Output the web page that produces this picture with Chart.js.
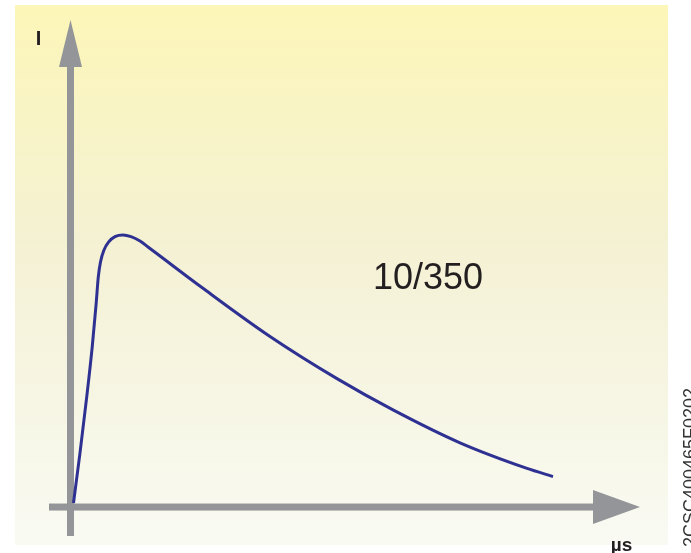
<!DOCTYPE html>
<html lang="en">
<head>
    <meta charset="UTF-8">
    <title>10/350 impulse</title>
    <style>
        body {
            margin: 0;
            padding: 0;
            background-color: #ffffff;
            font-family: 'Liberation Sans', Arial, sans-serif;
        }
        .container {
            position: relative;
            width: 691px;
            height: 553px;
            overflow: hidden;
        }
        .container canvas {
            position: absolute;
            left: 0;
            top: 0;
        }
        .label {
            position: absolute;
            line-height: 1;
            white-space: nowrap;
            color: #231f20;
        }
        #yName { left: 35.7px; top: 28.4px; font-size: 20px; font-weight: bold; }
        #xName { left: 610.7px; top: 535px; font-size: 19px; font-weight: bold; }
        #waveName { left: 373px; top: 258.5px; font-size: 36px; }
        #code {
            left: 680.7px; top: 547px; font-size: 18px; color: #333;
            transform-origin: 0 0; transform: rotate(-90deg);
        }
    </style>
</head>
<body>

    <div class="container">
        <canvas id="myChart"></canvas>
        <div class="label" id="yName">I</div>
        <div class="label" id="xName">µs</div>
        <div class="label" id="waveName">10/350</div>
        <div class="label" id="code">2CSC400465F0202</div>
    </div>

    <script src="https://cdn.jsdelivr.net/npm/chart.js"></script>
    <script>
        // time (arbitrary µs units) and current (% of peak)
        const timeUs = [0.6, 1.9, 3.24, 4.34, 5.14, 5.56, 6.0, 6.7, 7.6, 8.9, 10.5, 12.1, 13.9, 15.5, 17.24,
                        26.5, 39.9, 53.3, 64.5, 77.9, 91.3, 96.5];
        const current = [1.5, 19.9, 40.4, 58.8, 75.0, 84.6, 90.1, 94.5, 97.4, 99.4, 100, 99.4, 97.8, 95.6, 93.2,
                         80.4, 62.7, 47.2, 35.7, 23.6, 14.2, 11.2];

        // axis ranges, so the drawing sits where it does in the picture
        const xRange = [-14.1, 124.1];
        const yRange = [-16.9, 186.4];

        const axisGrey = '#939598';
        const curveBlue = '#2e3192';

        // yellow panel and the two arrowed axes
        const decorPlugin = {
            id: 'decor',
            beforeDraw(chart) {
                const c = chart.ctx;
                const g = c.createLinearGradient(0, 5, 0, 545);
                g.addColorStop(0, '#fcf6b8');
                g.addColorStop(0.45, '#f4f1d4');
                g.addColorStop(1, '#f9faf3');
                c.save();
                c.fillStyle = g;
                c.fillRect(15, 5, 653, 540);
                c.restore();
            },
            beforeDatasetsDraw(chart) {
                const c = chart.ctx;
                const x0 = chart.scales.x.getPixelForValue(0);
                const y0 = chart.scales.y.getPixelForValue(0);
                c.save();
                c.fillStyle = axisGrey;
                // vertical axis
                c.fillRect(x0 - 3.5, 62, 7, 536 - 62);
                c.beginPath();
                c.moveTo(x0, 20);
                c.lineTo(x0 + 11.5, 67);
                c.lineTo(x0 - 11.5, 67);
                c.closePath();
                c.fill();
                // horizontal axis
                c.fillRect(49, y0 - 3.5, 598 - 49, 7);
                c.beginPath();
                c.moveTo(640, y0);
                c.lineTo(593, y0 - 17);
                c.lineTo(593, y0 + 17);
                c.closePath();
                c.fill();
                c.restore();
            }
        };

        const ctx = document.getElementById('myChart').getContext('2d');

        let myChart = new Chart(ctx, {
            type: 'line',
            data: {
                datasets: [{
                    data: timeUs.map((t, i) => ({ x: t, y: current[i] })),
                    borderColor: curveBlue,
                    borderWidth: 3,
                    pointRadius: 0,
                    cubicInterpolationMode: 'monotone',
                    fill: false
                }]
            },
            options: {
                responsive: true,
                maintainAspectRatio: false,
                devicePixelRatio: 1,
                animation: false,
                layout: { padding: 0 },
                scales: {
                    x: { type: 'linear', min: xRange[0], max: xRange[1], display: false },
                    y: { type: 'linear', min: yRange[0], max: yRange[1], display: false }
                },
                plugins: {
                    legend: { display: false },
                    tooltip: { enabled: false }
                }
            },
            plugins: [decorPlugin]
        });
    </script>
</body>
</html>
